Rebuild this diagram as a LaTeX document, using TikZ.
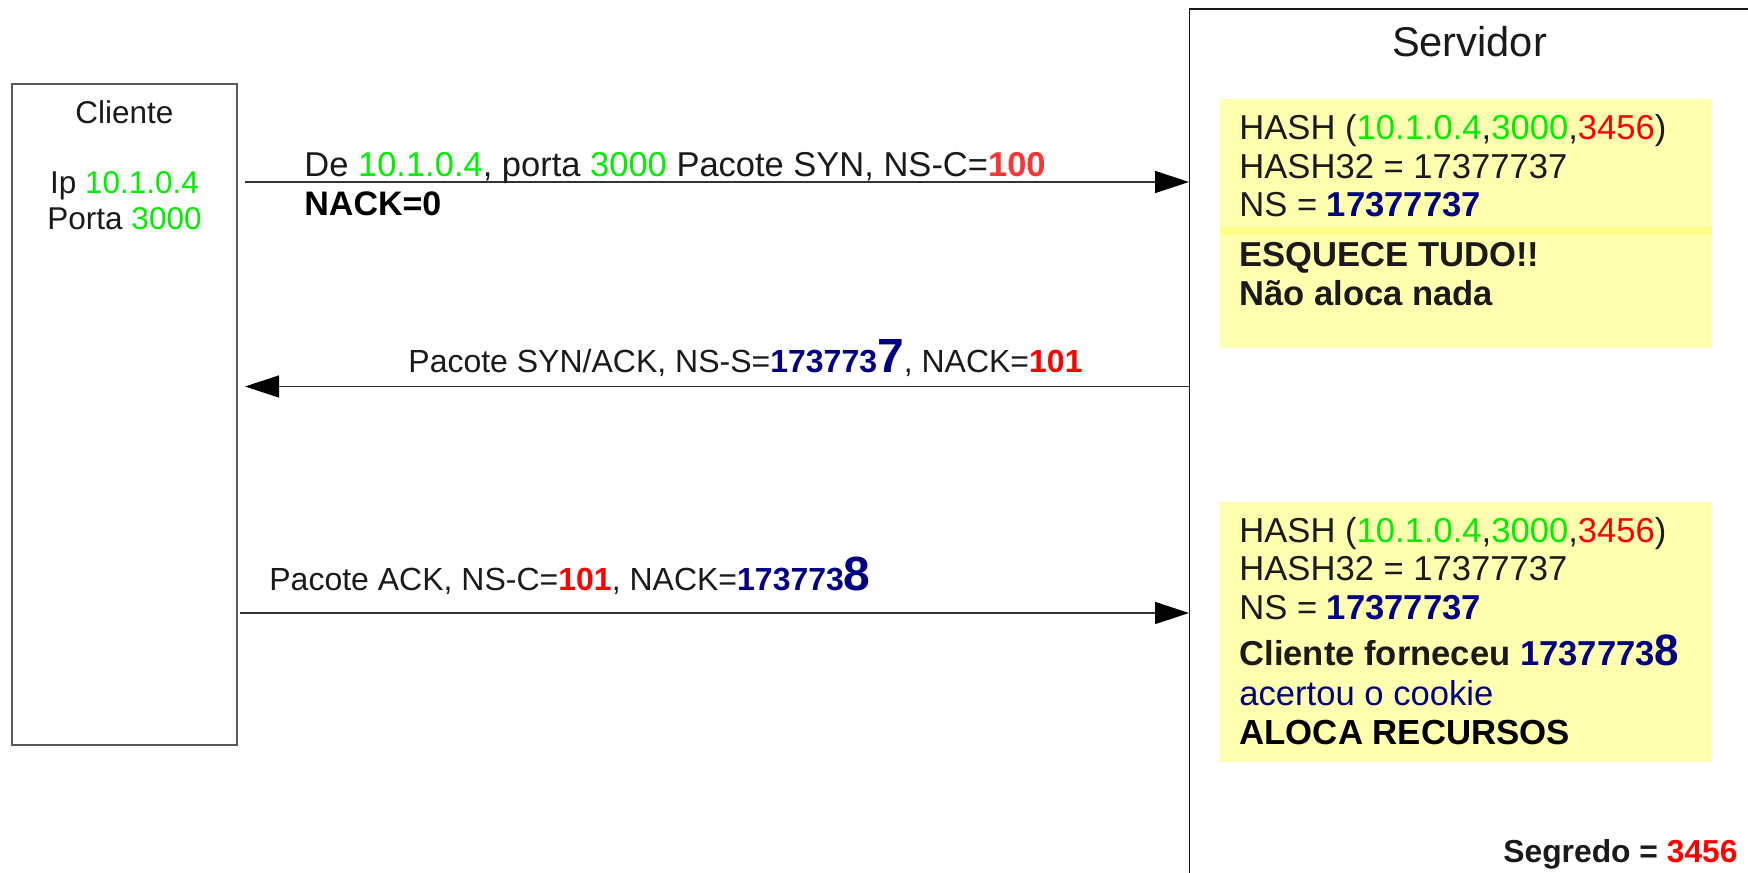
\documentclass[tikz,border=0pt]{standalone}
\usepackage{fontspec}
\setmainfont{Liberation Sans}
\usetikzlibrary{arrows.meta}

\definecolor{txt}{HTML}{1A1A1A}
\definecolor{ipgreen}{HTML}{00EE00}
\definecolor{keyred}{HTML}{FF0000}
\definecolor{nsred}{HTML}{FF3333}
\definecolor{nsblue}{HTML}{000080}
\definecolor{notefill}{HTML}{FFFFB0}
\definecolor{notestripe}{HTML}{FFFF88}

% font size helper
\newcommand{\sz}[1]{\fontsize{#1}{#1}\selectfont}
\newcommand{\gr}[1]{\textcolor{ipgreen}{#1}}
\newcommand{\rd}[1]{\textcolor{keyred}{#1}}
\newcommand{\bl}[1]{\textcolor{nsblue}{\bfseries #1}}

\begin{document}
\begin{tikzpicture}[x=0.5pt,y=-0.5pt,
  txtline/.style={inner sep=0pt, anchor=base west, text=txt},
  msg/.style={draw=black!80, line width=0.65pt,
              -{Triangle[length=17pt,width=11pt,black]}},
  notebox/.style={fill=notefill, anchor=north west, inner sep=0pt,
                  minimum width=246pt}]

\useasboundingbox (0,0) rectangle (1748,872);
\clip (0,0) rectangle (1748,872);

% ---- client ----
\node[draw=black!65, line width=0.65pt, inner sep=0pt,
      minimum width=112.5pt, minimum height=330.5pt] (client) at (124.5,414.5) {};
\node[inner sep=0pt, anchor=base, text=txt] (cname) at (124.5,123) {\sz{15.75pt}Cliente};
\node[inner sep=0pt, anchor=base, text=txt] (cip) at (124.5,193) {\sz{15.75pt}Ip \gr{10.1.0.4}};
\node[inner sep=0pt, anchor=base, text=txt] (cport) at (124.5,229) {\sz{15.75pt}Porta \gr{3000}};

% ---- server ----
\node[draw=black!90, line width=0.6pt, anchor=north west, inner sep=0pt,
      minimum width=281pt, minimum height=450pt] (server) at (1189,8.5) {};
\node[inner sep=0pt, anchor=base, text=txt] (sname) at (1469.5,57) {\sz{20.8pt}Servidor};

% ---- notes on the server side ----
\node[notebox, minimum height=124.5pt] (note1) at (1220,99) {};
\node[fill=notestripe, anchor=north west, inner sep=0pt,
      minimum width=246pt, minimum height=4pt] (stripe) at (1220,227) {};
\node[notebox, minimum height=129.75pt] (note2) at (1220,502) {};

\node[txtline] (n1a) at (1239,139.3) {\sz{17.3pt}HASH (\gr{10.1.0.4},\gr{3000},\rd{3456})};
\node[txtline] (n1b) at (1239,178.3) {\sz{17.3pt}HASH32 = 17377737};
\node[txtline] (n1c) at (1239,216.7) {\sz{17.3pt}NS = \bl{17377737}};
\node[txtline] (n1d) at (1239,266.7) {\sz{17.3pt}\bfseries ESQUECE TUDO!!};
\node[txtline] (n1e) at (1239,305) {\sz{17.3pt}\bfseries Não aloca nada};

\node[txtline] (n2a) at (1239,542.7) {\sz{17.3pt}HASH (\gr{10.1.0.4},\gr{3000},\rd{3456})};
\node[txtline] (n2b) at (1239,580.7) {\sz{17.3pt}HASH32 = 17377737};
\node[txtline] (n2c) at (1239,619.3) {\sz{17.3pt}NS = \bl{17377737}};
\node[txtline] (n2d) at (1239,665) {\sz{17.3pt}\bfseries Cliente forneceu \bl{1737773{\sz{22pt}8}}};
\node[txtline, text=nsblue] (n2e) at (1239,705) {\sz{17.3pt}acertou o cookie};
\node[txtline, text=black] (n2f) at (1239,744) {\sz{17.4pt}\bfseries ALOCA RECURSOS};

\node[inner sep=0pt, anchor=base east, text=txt] (secret) at (1738,862)
  {\sz{15.9pt}\bfseries Segredo = \rd{3456}};

% ---- messages ----
\coordinate (m1from) at (245,182);
\coordinate (m2to) at (245,386.5);
\coordinate (m3from) at (240,613);

\draw[msg] (m1from) -- (m1from -| server.west);
\draw[msg] (m2to -| server.west) -- (m2to);
\draw[msg] (m3from) -- (m3from -| server.west);

\node[txtline] (l1) at (304,176.7)
  {\sz{17.25pt}De \gr{10.1.0.4}, porta \gr{3000} Pacote SYN, NS-C=\textcolor{nsred}{\bfseries 100}};
\node[txtline, text=black] (l1b) at (304,215) {\sz{17pt}\bfseries NACK=0};
\node[txtline] (l2) at (408,372.7)
  {\sz{16pt}Pacote SYN/ACK, NS-S=\bl{173773{\sz{24pt}7}}, NACK=\rd{\bfseries 101}};
\node[txtline] (l3) at (269,590)
  {\sz{16pt}Pacote ACK, NS-C=\rd{\bfseries 101}, NACK=\bl{173773{\sz{24pt}8}}};

\end{tikzpicture}
\end{document}
